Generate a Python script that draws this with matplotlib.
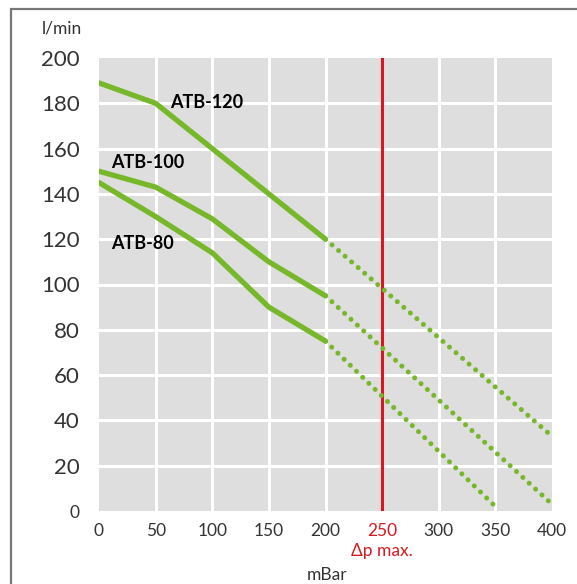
import matplotlib
matplotlib.use("Agg")
import matplotlib.pyplot as plt
from matplotlib.patches import Rectangle

# Data
pressure = [0, 50, 100, 150, 200]
atb120 = [189, 180, 160, 140, 120]
atb100 = [150, 143, 129, 110, 95]
atb80 = [145, 130, 114, 90, 75]
# extrapolated (dotted) segments
atb120_ext_x = [200, 400]
atb120_ext_y = [120, 33]
atb100_ext_x = [200, 400]
atb100_ext_y = [95, 3]
atb80_ext_x = [200, 350]
atb80_ext_y = [75, 2]
series_names = ["ATB-120", "ATB-100", "ATB-80"]
dp_max = 250
x_ticks = [0, 50, 100, 150, 200, 250, 300, 350, 400]
y_ticks = [0, 20, 40, 60, 80, 100, 120, 140, 160, 180, 200]

GREEN = "#76b82a"
RED = "#d7191f"
TXT = "#333333"

plt.rcParams['font.family'] = ['Lato', 'DejaVu Sans']

fig = plt.figure(figsize=(5.77, 5.84), dpi=100)
fig.patch.set_facecolor("white")
ax = fig.add_axes([99/577, 1-511/584, (552-99)/577, (511-58)/584])
ax.set_facecolor("#dedede")
for s in ax.spines.values():
    s.set_visible(False)

ax.set_xlim(0, 398)
ax.set_ylim(0, 200)
ax.set_xticks(x_ticks)
ax.set_yticks(y_ticks)
for x in [50, 100, 150, 200, 250, 300, 350]:
    ax.axvline(x, color="white", lw=2.2, zorder=1)
for y in y_ticks[1:-1]:
    ax.axhline(y, color="white", lw=2.2, zorder=1)

ax.tick_params(length=0)
ax.tick_params(axis='y', pad=14, labelsize=16, labelcolor=TXT)
ax.tick_params(axis='x', pad=9, labelsize=12.5, labelcolor=TXT)
for lab in ax.get_xticklabels():
    if lab.get_text() == "250":
        lab.set_color(RED)
for lab in ax.get_yticklabels():
    if lab.get_text() == "0":
        lab.set_fontsize(12.5)

ax.axvline(dp_max, color=RED, lw=2.2, zorder=3)

for xs, ys in [(pressure, atb120), (pressure, atb100), (pressure, atb80)]:
    ax.plot(xs, ys, color=GREEN, lw=3.8, solid_capstyle='round', solid_joinstyle='round', zorder=4)
for xs, ys in [(atb120_ext_x, atb120_ext_y), (atb100_ext_x, atb100_ext_y), (atb80_ext_x, atb80_ext_y)]:
    ax.plot(xs, ys, color=GREEN, lw=3.6, linestyle=(0, (0.01, 1.72)), dash_capstyle='round', zorder=4)

lbl_kw = dict(fontsize=13, fontweight='bold', color="black", va='center', ha='left', zorder=5)
ax.text(63, 180.5, series_names[0], **lbl_kw)
ax.text(10.5, 154, series_names[1], **lbl_kw)
ax.text(10.5, 118, series_names[2], **lbl_kw)

fig.text(62/577, 1-29/584, "l/min", fontsize=12.5, color=TXT, ha='center', va='center')
fig.text(382/577, 1-551/584, "Δp max.", fontsize=12.5, color=RED, ha='center', va='center')
fig.text(327/577, 1-575/584, "mBar", fontsize=12.5, color=TXT, ha='center', va='center')

fig.patches.append(Rectangle((10.5/577, -0.2), 1.2, 1.2 - 8.5/584, transform=fig.transFigure,
                             fill=False, edgecolor="#777777", lw=1.6, figure=fig))

fig.savefig("out.png", dpi=100)
